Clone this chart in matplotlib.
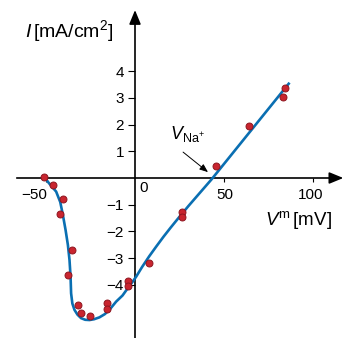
import numpy as np
import matplotlib
matplotlib.use("Agg")
import matplotlib.pyplot as plt
from matplotlib.patches import ArrowStyle

plt.rcParams['font.family'] = ['Liberation Sans', 'DejaVu Sans']
plt.rcParams['mathtext.fontset'] = 'custom'
plt.rcParams['mathtext.rm'] = 'Liberation Sans'
plt.rcParams['mathtext.it'] = 'Liberation Sans:italic'

# Measured I-V points (membrane voltage in mV, current density in mA/cm2)
v_meas = [-51.1, -45.8, -40.5, -42.2, -35.3, -37.9, -31.9, -30.3, -25.4,
          -15.5, -15.5, -3.9, -3.9, 7.7, 26.2, 26.2, 45.5, 64.3, 83.1, 84.0]
i_meas = [0.03, -0.27, -0.79, -1.36, -2.71, -3.63, -4.75, -5.07, -5.17,
          -4.68, -4.91, -3.85, -4.04, -3.19, -1.28, -1.47, 0.44, 1.95, 3.04, 3.36]

# Fitted curve through the data
v_fit = [-50.5, -48.5, -44.3, -42.0, -40.5, -39.0, -37.7, -36.8, -36.2, -35.9,
         -35.2, -34.0, -32.3, -30.3, -28.0, -25.6, -23.0, -20.0, -17.0, -14.4,
         -10.6, -7.0, -4.1, -1.5, 0.6, 4.0, 8.0, 12.0, 16.0, 20.0, 25.0, 30.0,
         43.0, 86.8]
i_fit = [0.0, -0.18, -0.51, -0.90, -1.39, -1.95, -2.51, -3.07, -3.70, -4.32,
         -4.70, -4.94, -5.12, -5.25, -5.31, -5.32, -5.29, -5.22, -5.10, -4.94,
         -4.63, -4.40, -4.13, -3.90, -3.70, -3.33, -2.93, -2.56, -2.20, -1.86,
         -1.45, -1.05, -0.05, 3.57]

yticks = [-4, -3, -2, -1, 1, 2, 3, 4]
ytick_labels = ['\u22124', '\u22123', '\u22122', '\u22121', '1', '2', '3', '4']
xticks = [-50, 50, 100]

line_blue = '#0a6fb2'
dot_red = '#c9252f'
dot_edge = '#8e1620'

fig = plt.figure(figsize=(3.49, 3.38), dpi=100)
ax = fig.add_axes([0, 0, 1, 1])
ax.set_xlim(-75.84, 120.2)
ax.set_ylim(-5.993, 6.667)
ax.patch.set_visible(False)

# axes crossing at the origin
for s in ['top', 'right']:
    ax.spines[s].set_visible(False)
ax.spines['left'].set_position(('data', 0))
ax.spines['bottom'].set_position(('data', 0))
ax.spines['left'].set_bounds(-6.0, 6.0)
ax.spines['bottom'].set_bounds(-66.3, 113.0)
for s in ['left', 'bottom']:
    ax.spines[s].set_linewidth(1.2)

head = ArrowStyle('-|>', head_length=0.85, head_width=0.35)
ax.annotate('', xy=(117.0, 0), xytext=(110.0, 0),
            arrowprops=dict(arrowstyle=head, color='black', lw=1.2, shrinkA=0, shrinkB=0))
ax.annotate('', xy=(0, 6.29), xytext=(0, 5.8),
            arrowprops=dict(arrowstyle=head, color='black', lw=1.2, shrinkA=0, shrinkB=0))

ax.set_yticks(yticks)
ax.set_yticklabels(ytick_labels)
ax.set_xticks(xticks)
ax.set_xticklabels([])
ax.tick_params(axis='y', direction='out', length=5, width=0.8, pad=3, labelsize=11)
ax.tick_params(axis='x', direction='out', length=3, width=0.8)

# x tick labels
ax.text(-49.4, -0.64, '\u221250', ha='right', va='center', fontsize=11)
ax.text(50.5, -0.64, '50', ha='center', va='center', fontsize=11)
ax.text(98.6, -0.64, '100', ha='center', va='center', fontsize=11)
ax.text(5.1, -0.37, '0', ha='center', va='center', fontsize=11)

ax.plot(v_fit, i_fit, color=line_blue, lw=1.9, solid_capstyle='butt', zorder=3)
ax.plot(v_meas, i_meas, 'o', ms=5, mfc=dot_red, mec=dot_edge, mew=0.7, zorder=4)

# axis titles
ax.text(-61.8, 5.5, r'$I\,$[mA/cm$^2$]', ha='left', va='center', fontsize=14)
ax.text(73.0, -1.57, r'$V^{\mathrm{m}}\,$[mV]', ha='left', va='center', fontsize=13.5)

# reversal potential label with pointer
ax.text(19.7, 1.46, r'$V_{\mathrm{Na}^{+}}$', ha='left', va='baseline', fontsize=13)
ax.annotate('', xy=(41.0, 0.22), xytext=(27.0, 0.97),
            arrowprops=dict(arrowstyle='-|>,head_length=0.5,head_width=0.2',
                            color='black', lw=0.7, shrinkA=0, shrinkB=0))

fig.savefig('out.png', dpi=100)
